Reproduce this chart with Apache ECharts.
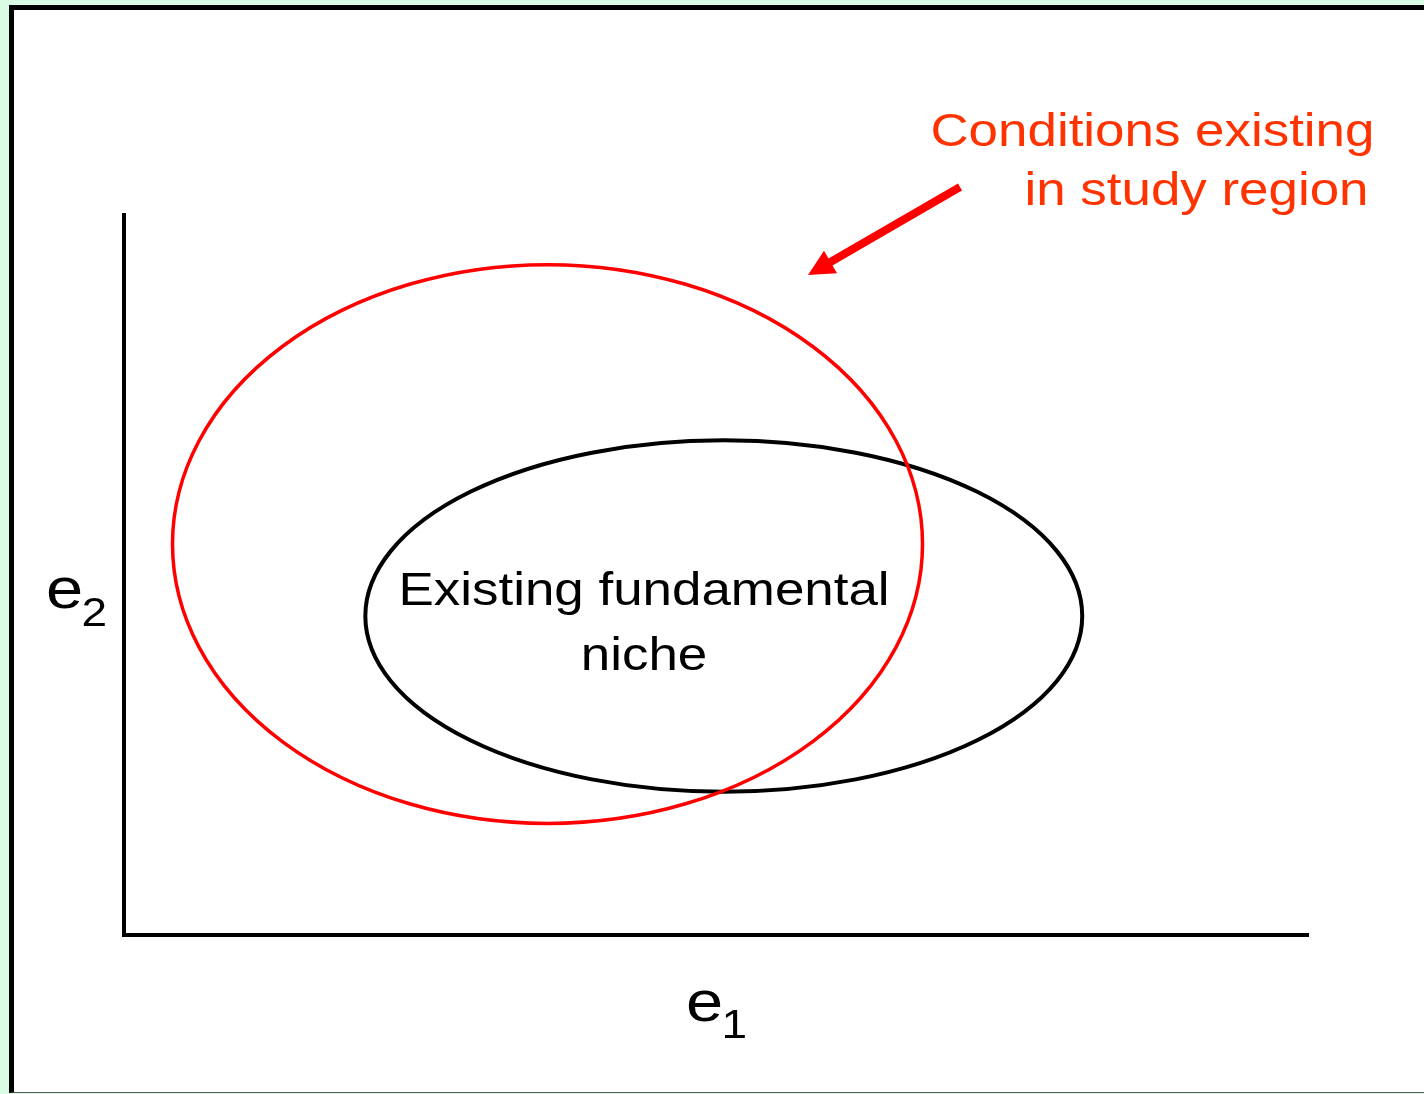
<!DOCTYPE html>
<html>
<head>
<meta charset="utf-8">
<script src="https://cdn.jsdelivr.net/npm/echarts@6/dist/echarts.min.js"></script>
<style>
  html, body { margin: 0; padding: 0; background: #dafbe4; width: 1424px; height: 1094px; overflow: hidden; }
  #frame { position: absolute; left: 9px; top: 5px; width: 1430px; height: 1082px;
           background: #ffffff; border-top: 5px solid #000; border-left: 5px solid #000; border-bottom: 1px solid #555; }
  #chart { position: absolute; left: 0; top: 0; width: 1424px; height: 1094px; }
</style>
</head>
<body>
<div id="frame"></div>
<div id="chart"></div>
<script>
// ---- data (axis units: e1 0..100, e2 0..100) ----
const ellipseNames = ['Existing fundamental niche', 'Conditions existing in study region'];
// [centre e1, centre e2, radius e1, radius e2]
const nicheEllipse  = [50.7, 44.3, 30.3, 24.4];
const regionEllipse = [35.8, 54.3, 31.7, 38.8];
// arrow: [from e1, from e2, to e1, to e2]
const arrowSegment = [70.67, 103.9, 57.82, 91.67];

// annotation texts and their anchor points (axis units, baseline)
const labelTexts   = ['Conditions existing', 'in study region', 'Existing fundamental', 'niche', 'e', '2', 'e', '1'];
const labelAnchors = [[105.7, 109.8], [105.2, 101.6], [43.96, 45.97], [43.96, 36.94],
                      [-6.6, 45.6], [-3.6, 43.06], [47.5, -11.8], [50.5, -14.2]];
const labelSizes   = [46, 46, 46, 46, 58, 40, 58, 40];
const labelColors  = ['#ff3300', '#ff3300', '#000', '#000', '#000', '#000', '#000', '#000'];
const labelAligns  = ['right', 'right', 'center', 'center', 'left', 'left', 'left', 'left'];

const chart = echarts.init(document.getElementById('chart'), null, { renderer: 'canvas' });

function ellipseItem(stroke, width) {
  return function (params, api) {
    const c = api.coord([api.value(0), api.value(1)]);
    const s = api.size([api.value(2), api.value(3)]);
    const rx = s[0], ry = s[1], x = c[0], y = c[1];
    const d = 'M' + (x - rx) + ' ' + y +
              ' A' + rx + ' ' + ry + ' 0 1 0 ' + (x + rx) + ' ' + y +
              ' A' + rx + ' ' + ry + ' 0 1 0 ' + (x - rx) + ' ' + y + ' Z';
    return { type: 'path', shape: { pathData: d },
             style: { fill: 'none', stroke: stroke, lineWidth: width } };
  };
}

const axisCommon = {
  type: 'value', min: 0, max: 100,
  axisLine: { show: true, lineStyle: { color: '#000', width: 4, cap: 'square' } },
  axisTick: { show: false }, axisLabel: { show: false }, splitLine: { show: false }
};

chart.setOption({
  backgroundColor: 'transparent',
  animation: false,
  grid: { left: 124, right: 117, top: 215, bottom: 159 },
  xAxis: Object.assign({ name: '' }, axisCommon),
  yAxis: Object.assign({ name: '' }, axisCommon),
  series: [
    { type: 'custom', name: ellipseNames[0], clip: false, silent: true,
      renderItem: ellipseItem('#000000', 4), data: [nicheEllipse] },
    { type: 'custom', name: ellipseNames[1], clip: false, silent: true,
      renderItem: ellipseItem('#ff0000', 3.5), data: [regionEllipse] },
    { type: 'custom', name: 'arrow', clip: false, silent: true,
      renderItem: function (params, api) {
        const p1 = api.coord([api.value(0), api.value(1)]);
        const p2 = api.coord([api.value(2), api.value(3)]);
        const dx = p2[0] - p1[0], dy = p2[1] - p1[1];
        const L = Math.sqrt(dx * dx + dy * dy);
        const ux = dx / L, uy = dy / L, nx = -uy, ny = ux;
        const headLen = 26, headHalf = 13;
        const bx = p2[0] - ux * headLen, by = p2[1] - uy * headLen;
        return { type: 'group', children: [
          { type: 'line', shape: { x1: p1[0], y1: p1[1], x2: bx + ux * 2, y2: by + uy * 2 },
            style: { stroke: '#ff0000', lineWidth: 8, lineCap: 'butt' } },
          { type: 'polygon', shape: { points: [[p2[0], p2[1]], [bx + nx * headHalf, by + ny * headHalf], [bx - nx * headHalf, by - ny * headHalf]] },
            style: { fill: '#ff0000' } }
        ] };
      },
      data: [arrowSegment] },
    { type: 'custom', name: 'labels', clip: false, silent: true,
      renderItem: function (params, api) {
        const i = params.dataIndex;
        const p = api.coord([api.value(0), api.value(1)]);
        const fs = labelSizes[i];
        return { type: 'text', x: p[0], y: p[1] - 0.25 * fs, scaleX: 1.15,
          style: { text: labelTexts[i], fontSize: fs, fontFamily: '"Liberation Sans", Arial, sans-serif',
                   fill: labelColors[i], align: labelAligns[i], verticalAlign: 'middle' } };
      },
      data: labelAnchors }
  ]
});
</script>
</body>
</html>
